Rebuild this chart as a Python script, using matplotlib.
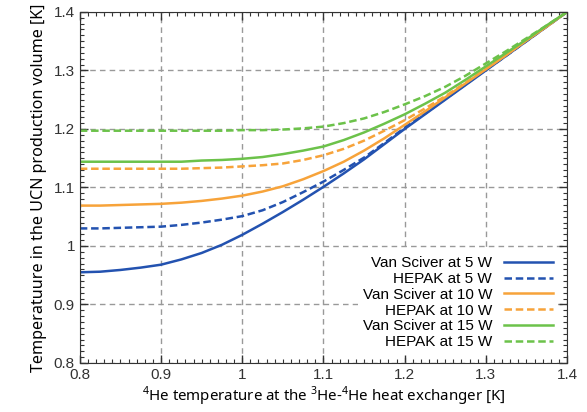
import numpy as np
import matplotlib
matplotlib.use("Agg")
import matplotlib.pyplot as plt
from matplotlib.ticker import MultipleLocator

plt.rcParams['font.family'] = ['Liberation Sans', 'DejaVu Sans']
plt.rcParams['mathtext.fontset'] = 'custom'
plt.rcParams['mathtext.rm'] = 'Noto Sans'

# 4He temperature at the heat exchanger [K]
t_hex = [0.800, 0.825, 0.850, 0.875, 0.900, 0.925, 0.950, 0.975, 1.000,
         1.025, 1.050, 1.075, 1.100, 1.125, 1.150, 1.175, 1.200,
         1.225, 1.250, 1.275, 1.300, 1.325, 1.350, 1.375, 1.400]

# temperature in the UCN production volume [K]
vs_5w = [0.955, 0.956, 0.959, 0.963, 0.968, 0.977, 0.988, 1.002, 1.019,
         1.038, 1.058, 1.079, 1.101, 1.124, 1.148, 1.174, 1.200,
         1.225, 1.250, 1.275, 1.300, 1.325, 1.350, 1.375, 1.400]
hp_5w = [1.030, 1.030, 1.031, 1.032, 1.033, 1.036, 1.040, 1.045, 1.051,
         1.061, 1.075, 1.092, 1.110, 1.130, 1.151, 1.176, 1.202,
         1.226, 1.251, 1.276, 1.301, 1.325, 1.350, 1.375, 1.400]
vs_10w = [1.069, 1.069, 1.070, 1.071, 1.072, 1.074, 1.077, 1.081, 1.086,
          1.093, 1.102, 1.114, 1.128, 1.144, 1.163, 1.184, 1.207,
          1.230, 1.254, 1.278, 1.302, 1.326, 1.351, 1.375, 1.400]
hp_10w = [1.132, 1.132, 1.132, 1.132, 1.132, 1.132, 1.133, 1.134, 1.136,
          1.138, 1.141, 1.147, 1.155, 1.166, 1.180, 1.197, 1.215,
          1.235, 1.256, 1.279, 1.303, 1.327, 1.352, 1.376, 1.400]
vs_15w = [1.144, 1.144, 1.144, 1.144, 1.144, 1.144, 1.146, 1.147, 1.149,
          1.152, 1.157, 1.163, 1.170, 1.181, 1.194, 1.209, 1.225,
          1.243, 1.262, 1.284, 1.307, 1.330, 1.353, 1.377, 1.400]
hp_15w = [1.197, 1.197, 1.197, 1.197, 1.197, 1.197, 1.197, 1.197, 1.198,
          1.198, 1.199, 1.201, 1.204, 1.210, 1.218, 1.229, 1.242,
          1.256, 1.272, 1.291, 1.312, 1.333, 1.355, 1.377, 1.400]

blue = '#2352b0'
orange = '#f7a33a'
green = '#6cc24a'
dash = (0, (3, 1.5))

fig = plt.figure(figsize=(5.87, 4.12), dpi=100)
ax = fig.add_axes([0.136, 0.119, 0.830, 0.852])

ax.plot(t_hex, vs_5w, color=blue, lw=1.8, label='Van Sciver at 5 W')
ax.plot(t_hex, hp_5w, color=blue, lw=1.8, ls=dash, label='HEPAK at 5 W')
ax.plot(t_hex, vs_10w, color=orange, lw=1.8, label='Van Sciver at 10 W')
ax.plot(t_hex, hp_10w, color=orange, lw=1.8, ls=dash, label='HEPAK at 10 W')
ax.plot(t_hex, vs_15w, color=green, lw=1.8, label='Van Sciver at 15 W')
ax.plot(t_hex, hp_15w, color=green, lw=1.8, ls=dash, label='HEPAK at 15 W')

ax.set_xlim(0.8, 1.4)
ax.set_ylim(0.8, 1.4)
ax.xaxis.set_minor_locator(MultipleLocator(0.01))
ax.yaxis.set_minor_locator(MultipleLocator(0.01))
ticks = [0.8, 0.9, 1.0, 1.1, 1.2, 1.3, 1.4]
tick_labels = ['0.8', '0.9', '1', '1.1', '1.2', '1.3', '1.4']
ax.set_xticks(ticks)
ax.set_xticklabels(tick_labels)
ax.set_yticks(ticks)
ax.set_yticklabels(tick_labels)
ax.tick_params(which='both', direction='in', top=True, right=True, labelsize=11, colors='#333333')
ax.tick_params(which='major', length=6, width=1)
ax.tick_params(which='minor', length=3, width=0.8)
for s in ax.spines.values():
    s.set_color('#333333')

ax.grid(True, which='major', color='#999999', ls=(0, (4, 3)), lw=1)

ax.set_xlabel(r'$^{4}$He temperature at the $^{3}$He-$^{4}$He heat exchanger [K]',
              family='Noto Sans', fontsize=10.8, labelpad=2)
ax.set_ylabel('Temperatuure in the UCN production volume [K]',
              family='Noto Sans', fontsize=11.6, labelpad=5)

leg = ax.legend(loc='lower right', markerfirst=False, fontsize=11, handlelength=3.2,
                labelspacing=0.12, frameon=True, framealpha=1, facecolor='white',
                edgecolor='none', borderaxespad=0.6, borderpad=0.3, handletextpad=0.8)
for t in leg.get_texts():
    t.set_ha('right')
leg.set_zorder(5)
leg._legend_box.align = 'right'

fig.savefig('out.png', dpi=100)
